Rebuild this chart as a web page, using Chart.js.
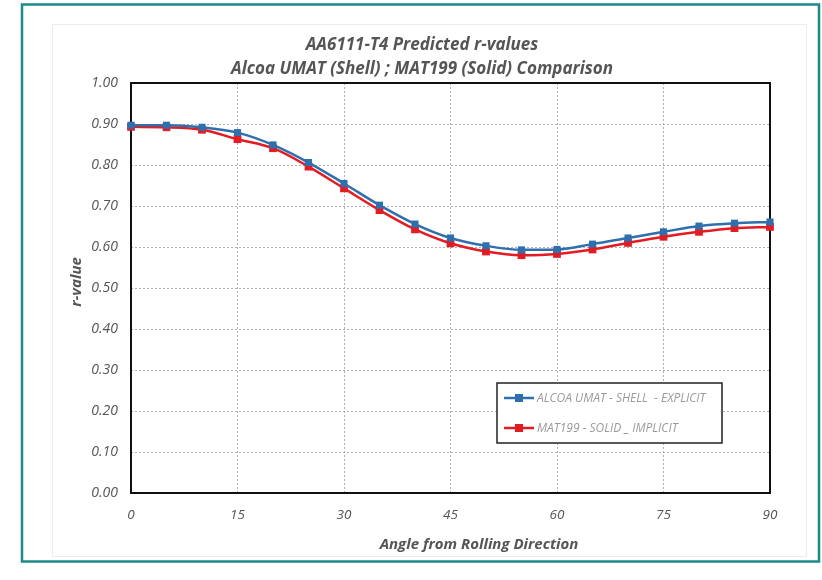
<!DOCTYPE html>
<html>
<head>
<meta charset="utf-8">
<script src="https://cdn.jsdelivr.net/npm/chart.js@4.4.1/dist/chart.umd.min.js"></script>
<style>
  html, body { margin: 0; padding: 0; background: #ffffff; }
  #wrap { width: 822px; height: 580px; }
</style>
</head>
<body>
<div id="wrap"><canvas id="c" width="822" height="580"></canvas></div>
<script>
// Angle from rolling direction (degrees)
const angles = [0, 5, 10, 15, 20, 25, 30, 35, 40, 45, 50, 55, 60, 65, 70, 75, 80, 85, 90];

// Predicted r-values
const shellExplicit = [0.897, 0.897, 0.892, 0.879, 0.849, 0.806, 0.755, 0.702, 0.656, 0.622,
                       0.603, 0.593, 0.594, 0.607, 0.622, 0.637, 0.651, 0.658, 0.661];
const solidImplicit = [0.893, 0.892, 0.886, 0.863, 0.841, 0.796, 0.743, 0.690, 0.643, 0.609,
                       0.589, 0.580, 0.583, 0.594, 0.610, 0.625, 0.637, 0.646, 0.649];

const seriesLabels = ['ALCOA UMAT - SHELL  - EXPLICIT', 'MAT199 - SOLID _ IMPLICIT'];
const titleLines = ['AA6111-T4 Predicted r-values', 'Alcoa UMAT (Shell) ; MAT199 (Solid) Comparison'];
const xTitle = 'Angle from Rolling Direction';
const yTitle = 'r-value';

const BLUE = '#2f6fae';
const RED = '#e31b23';
const TEXT = '#555555';
const FONT = '"Open Sans", "Liberation Sans", sans-serif';

function pts(vals) { return angles.map((a, i) => ({ x: a, y: vals[i] })); }

// Page frame, titles, plot border and in-plot legend
const decor = {
  id: 'decor',
  beforeDraw(chart) {
    const ctx = chart.ctx;
    ctx.save();
    ctx.fillStyle = '#ffffff';
    ctx.fillRect(0, 0, chart.width, chart.height);
    ctx.strokeStyle = '#ededed';
    ctx.lineWidth = 1;
    ctx.strokeRect(52.5, 24.5, 754, 532);
    ctx.strokeStyle = '#1b8a8a';
    ctx.lineWidth = 2.5;
    ctx.strokeRect(22, 4.5, 797, 557);
    ctx.restore();
  },
  beforeDatasetsDraw(chart) {
    const { ctx, chartArea: a } = chart;
    ctx.save();
    ctx.strokeStyle = '#111111';
    ctx.lineWidth = 2;
    ctx.strokeRect(a.left, a.top, a.right - a.left, a.bottom - a.top);
    ctx.restore();
  },
  afterDraw(chart) {
    const { ctx, chartArea: a } = chart;
    ctx.save();
    ctx.fillStyle = TEXT;
    ctx.textAlign = 'center';
    ctx.textBaseline = 'middle';
    ctx.font = 'italic bold 17px ' + FONT;
    ctx.fillText(titleLines[0], 422, 45);
    ctx.fillText(titleLines[1], 422, 69);
    ctx.font = 'italic bold 15px ' + FONT;
    ctx.fillText(xTitle, 479, 545);
    ctx.translate(77, 282);
    ctx.rotate(-Math.PI / 2);
    ctx.fillText(yTitle, 0, 0);
    ctx.restore();

    // legend box inside the plot
    const lx = a.left + 366, ly = a.top + 300, lw = 225, lh = 60;
    ctx.save();
    ctx.fillStyle = '#ffffff';
    ctx.fillRect(lx, ly, lw, lh);
    ctx.strokeStyle = '#222222';
    ctx.lineWidth = 1.5;
    ctx.strokeRect(lx, ly, lw, lh);
    ctx.font = 'italic 12px ' + FONT;
    ctx.textAlign = 'left';
    ctx.textBaseline = 'middle';
    chart.data.datasets.forEach((ds, i) => {
      const y = ly + 15 + i * 30;
      ctx.strokeStyle = ds.borderColor;
      ctx.lineWidth = 2.5;
      ctx.beginPath();
      ctx.moveTo(lx + 7, y);
      ctx.lineTo(lx + 37, y);
      ctx.stroke();
      ctx.fillStyle = ds.borderColor;
      ctx.fillRect(lx + 18, y - 4, 8, 8);
      ctx.fillStyle = '#9a9a9a';
      ctx.fillText(ds.label, lx + 40, y + 0.5);
    });
    ctx.restore();
  }
};

new Chart(document.getElementById('c'), {
  type: 'line',
  data: {
    datasets: [
      {
        label: seriesLabels[0],
        data: pts(shellExplicit),
        borderColor: BLUE,
        backgroundColor: BLUE,
        borderWidth: 2.5,
        pointStyle: 'rect',
        pointRadius: 5,
        pointBorderWidth: 0,
        tension: 0.4,
        cubicInterpolationMode: 'monotone',
        clip: false
      },
      {
        label: seriesLabels[1],
        data: pts(solidImplicit),
        borderColor: RED,
        backgroundColor: RED,
        borderWidth: 2.5,
        pointStyle: 'rect',
        pointRadius: 5.5,
        pointBorderWidth: 0,
        tension: 0.4,
        cubicInterpolationMode: 'monotone',
        clip: false
      }
    ]
  },
  options: {
    responsive: false,
    animation: false,
    devicePixelRatio: 1,
    layout: { autoPadding: false, padding: { left: 0, right: 52, top: 83, bottom: 0 } },
    plugins: { legend: { display: false }, title: { display: false }, tooltip: { enabled: false } },
    scales: {
      x: {
        type: 'linear',
        min: 0, max: 90,
        afterFit(s) { s.height = 87; },
        ticks: {
          stepSize: 15,
          color: TEXT,
          padding: 14,
          font: { family: FONT, style: 'italic', size: 13.5 }
        },
        grid: { color: '#b0b0b0', lineWidth: 1, drawTicks: false, tickLength: 0 },
        border: { display: false, dash: [2, 2] }
      },
      y: {
        min: 0, max: 1,
        afterFit(s) { s.width = 131; },
        ticks: {
          stepSize: 0.1,
          color: TEXT,
          padding: 13,
          font: { family: FONT, style: 'italic', size: 14 },
          callback: v => v.toFixed(2)
        },
        grid: { color: '#b0b0b0', lineWidth: 1, drawTicks: false, tickLength: 0 },
        border: { display: false, dash: [2, 2] }
      }
    }
  },
  plugins: [decor]
});
</script>
</body>
</html>
